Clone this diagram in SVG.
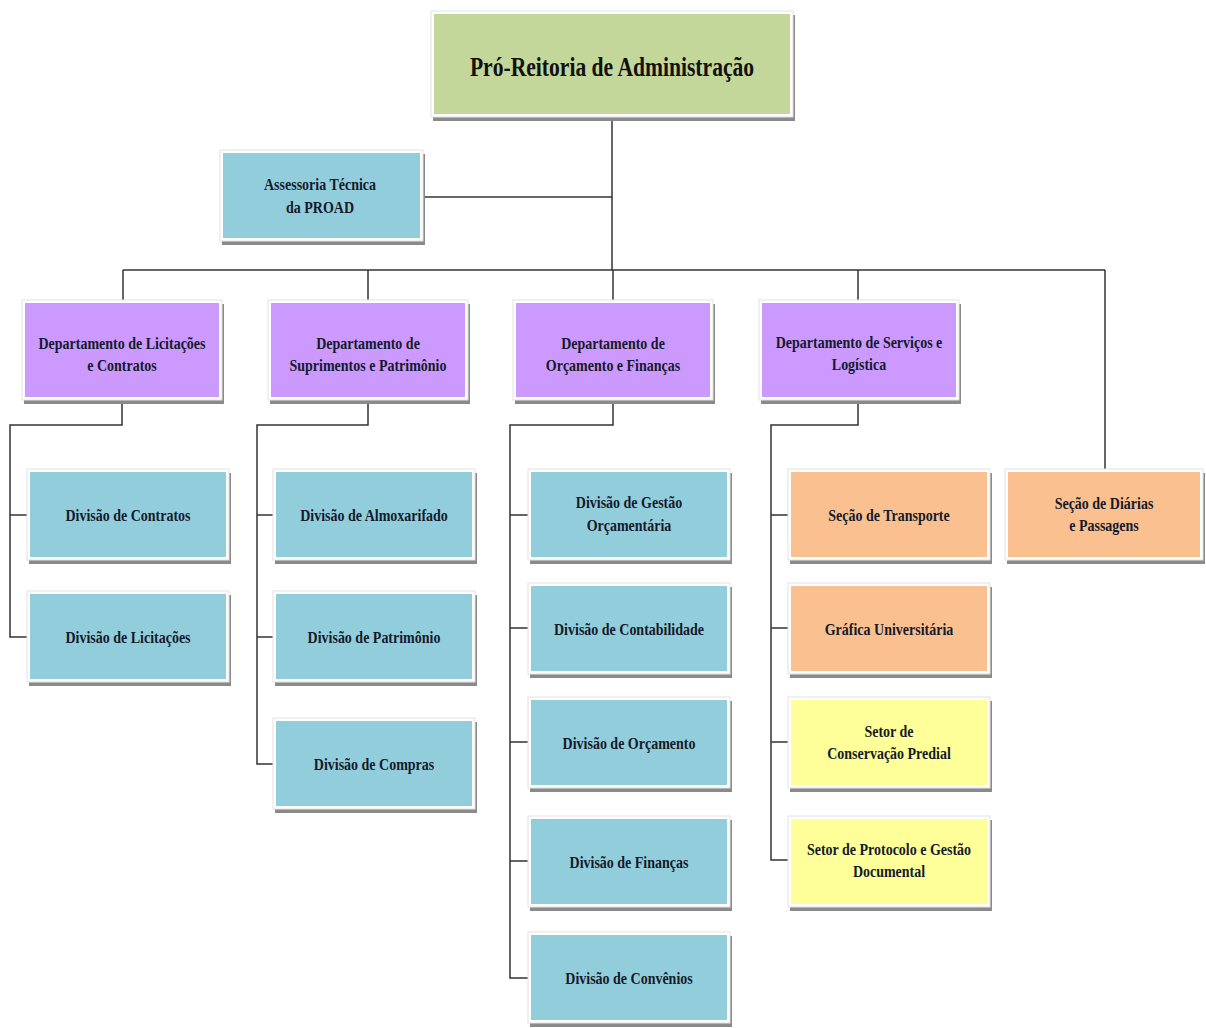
<svg xmlns="http://www.w3.org/2000/svg" width="1206" height="1028" viewBox="0 0 1206 1028">
<style>
.sh{fill:#8a8a8a}
.fr{fill:#ffffff;stroke:#e2e2e2;stroke-width:1}
.green{fill:#c4d79b}
.blue{fill:#92cddc}
.purple{fill:#cc99ff}
.orange{fill:#fac090}
.yellow{fill:#ffff99}
text{font-family:"Liberation Serif","Times New Roman",serif;font-weight:bold;fill:#141a2a;text-anchor:middle}
.t{font-size:17.5px}
.title{font-size:27px;fill:#111}
.conn path{fill:none;stroke:#333;stroke-width:1.5}
</style>
<rect width="1206" height="1028" fill="#ffffff"/>
<g class="conn" id="connectors">
<path d="M612 117 V270"/>
<path d="M422 197 H612"/>
<path d="M123 270 H1105"/>
<path d="M123 270 V300 M368 270 V300 M613 270 V300 M858 270 V300 M1105 270 V469"/>
<path d="M122 400 V425 H10 V637 H27 M10 515 H27"/>
<path d="M368 400 V425 H257 V764 H273 M257 515 H273 M257 637 H273"/>
<path d="M613 400 V425 H510 V978 H528 M510 515 H528 M510 628 H528 M510 742 H528 M510 861 H528"/>
<path d="M858 400 V425 H771 V860 H788 M771 515 H788 M771 628 H788 M771 742 H788"/>
</g>

<g id="proad">
<rect class="sh" x="433" y="15" width="362" height="106"/>
<rect class="fr" x="431" y="11" width="362" height="106"/>
<rect class="green" x="434" y="14" width="356" height="100"/>
<text class="title" transform="translate(612 76) scale(0.8 1)">Pró-Reitoria de Administração</text>
</g>

<g id="assessoria">
<rect class="sh" x="222" y="154" width="203" height="91"/>
<rect class="fr" x="220" y="150" width="203" height="91"/>
<rect class="blue" x="223" y="153" width="197" height="85"/>
<text class="t" transform="translate(320 190) scale(0.8 1)">Assessoria Técnica</text>
<text class="t" transform="translate(320 213) scale(0.8 1)">da PROAD</text>
</g>

<g id="dep-licitacoes">
<rect class="sh" x="24" y="304" width="200" height="100"/>
<rect class="fr" x="22" y="300" width="200" height="100"/>
<rect class="purple" x="25" y="303" width="194" height="94"/>
<text class="t" transform="translate(122 349) scale(0.8 1)">Departamento de Licitações</text>
<text class="t" transform="translate(122 371) scale(0.8 1)">e Contratos</text>
</g>

<g id="dep-suprimentos">
<rect class="sh" x="270" y="304" width="200" height="100"/>
<rect class="fr" x="268" y="300" width="200" height="100"/>
<rect class="purple" x="271" y="303" width="194" height="94"/>
<text class="t" transform="translate(368 349) scale(0.8 1)">Departamento de</text>
<text class="t" transform="translate(368 371) scale(0.8 1)">Suprimentos e Patrimônio</text>
</g>

<g id="dep-orcamento">
<rect class="sh" x="515" y="304" width="200" height="100"/>
<rect class="fr" x="513" y="300" width="200" height="100"/>
<rect class="purple" x="516" y="303" width="194" height="94"/>
<text class="t" transform="translate(613 349) scale(0.8 1)">Departamento de</text>
<text class="t" transform="translate(613 371) scale(0.8 1)">Orçamento e Finanças</text>
</g>

<g id="dep-servicos">
<rect class="sh" x="761" y="304" width="200" height="100"/>
<rect class="fr" x="759" y="300" width="200" height="100"/>
<rect class="purple" x="762" y="303" width="194" height="94"/>
<text class="t" transform="translate(859 348) scale(0.8 1)">Departamento de Serviços e</text>
<text class="t" transform="translate(859 370) scale(0.8 1)">Logística</text>
</g>

<g id="div-contratos">
<rect class="sh" x="29" y="473" width="202" height="91"/>
<rect class="fr" x="27" y="469" width="202" height="91"/>
<rect class="blue" x="30" y="472" width="196" height="85"/>
<text class="t" transform="translate(128 521) scale(0.8 1)">Divisão de Contratos</text>
</g>

<g id="div-licitacoes">
<rect class="sh" x="29" y="595" width="202" height="91"/>
<rect class="fr" x="27" y="591" width="202" height="91"/>
<rect class="blue" x="30" y="594" width="196" height="85"/>
<text class="t" transform="translate(128 643) scale(0.8 1)">Divisão de Licitações</text>
</g>

<g id="div-almoxarifado">
<rect class="sh" x="275" y="473" width="202" height="91"/>
<rect class="fr" x="273" y="469" width="202" height="91"/>
<rect class="blue" x="276" y="472" width="196" height="85"/>
<text class="t" transform="translate(374 521) scale(0.8 1)">Divisão de Almoxarifado</text>
</g>

<g id="div-patrimonio">
<rect class="sh" x="275" y="595" width="202" height="91"/>
<rect class="fr" x="273" y="591" width="202" height="91"/>
<rect class="blue" x="276" y="594" width="196" height="85"/>
<text class="t" transform="translate(374 643) scale(0.8 1)">Divisão de Patrimônio</text>
</g>

<g id="div-compras">
<rect class="sh" x="275" y="722" width="202" height="91"/>
<rect class="fr" x="273" y="718" width="202" height="91"/>
<rect class="blue" x="276" y="721" width="196" height="85"/>
<text class="t" transform="translate(374 770) scale(0.8 1)">Divisão de Compras</text>
</g>

<g id="div-gestao-orcamentaria">
<rect class="sh" x="530" y="473" width="202" height="91"/>
<rect class="fr" x="528" y="469" width="202" height="91"/>
<rect class="blue" x="531" y="472" width="196" height="85"/>
<text class="t" transform="translate(629 508) scale(0.8 1)">Divisão de Gestão</text>
<text class="t" transform="translate(629 531) scale(0.8 1)">Orçamentária</text>
</g>

<g id="div-contabilidade">
<rect class="sh" x="530" y="587" width="202" height="91"/>
<rect class="fr" x="528" y="583" width="202" height="91"/>
<rect class="blue" x="531" y="586" width="196" height="85"/>
<text class="t" transform="translate(629 635) scale(0.8 1)">Divisão de Contabilidade</text>
</g>

<g id="div-orcamento">
<rect class="sh" x="530" y="701" width="202" height="91"/>
<rect class="fr" x="528" y="697" width="202" height="91"/>
<rect class="blue" x="531" y="700" width="196" height="85"/>
<text class="t" transform="translate(629 749) scale(0.8 1)">Divisão de Orçamento</text>
</g>

<g id="div-financas">
<rect class="sh" x="530" y="820" width="202" height="91"/>
<rect class="fr" x="528" y="816" width="202" height="91"/>
<rect class="blue" x="531" y="819" width="196" height="85"/>
<text class="t" transform="translate(629 868) scale(0.8 1)">Divisão de Finanças</text>
</g>

<g id="div-convenios">
<rect class="sh" x="530" y="936" width="202" height="91"/>
<rect class="fr" x="528" y="932" width="202" height="91"/>
<rect class="blue" x="531" y="935" width="196" height="85"/>
<text class="t" transform="translate(629 984) scale(0.8 1)">Divisão de Convênios</text>
</g>

<g id="sec-transporte">
<rect class="sh" x="790" y="473" width="202" height="91"/>
<rect class="fr" x="788" y="469" width="202" height="91"/>
<rect class="orange" x="791" y="472" width="196" height="85"/>
<text class="t" transform="translate(889 521) scale(0.8 1)">Seção de Transporte</text>
</g>

<g id="grafica">
<rect class="sh" x="790" y="587" width="202" height="91"/>
<rect class="fr" x="788" y="583" width="202" height="91"/>
<rect class="orange" x="791" y="586" width="196" height="85"/>
<text class="t" transform="translate(889 635) scale(0.8 1)">Gráfica Universitária</text>
</g>

<g id="setor-conservacao">
<rect class="sh" x="790" y="701" width="202" height="91"/>
<rect class="fr" x="788" y="697" width="202" height="91"/>
<rect class="yellow" x="791" y="700" width="196" height="85"/>
<text class="t" transform="translate(889 737) scale(0.8 1)">Setor de</text>
<text class="t" transform="translate(889 759) scale(0.8 1)">Conservação Predial</text>
</g>

<g id="setor-protocolo">
<rect class="sh" x="790" y="820" width="202" height="91"/>
<rect class="fr" x="788" y="816" width="202" height="91"/>
<rect class="yellow" x="791" y="819" width="196" height="85"/>
<text class="t" transform="translate(889 855) scale(0.8 1)">Setor de Protocolo e Gestão</text>
<text class="t" transform="translate(889 877) scale(0.8 1)">Documental</text>
</g>

<g id="sec-diarias">
<rect class="sh" x="1007" y="473" width="198" height="91"/>
<rect class="fr" x="1005" y="469" width="198" height="91"/>
<rect class="orange" x="1008" y="472" width="192" height="85"/>
<text class="t" transform="translate(1104 509) scale(0.8 1)">Seção de Diárias</text>
<text class="t" transform="translate(1104 531) scale(0.8 1)">e Passagens</text>
</g>
</svg>
